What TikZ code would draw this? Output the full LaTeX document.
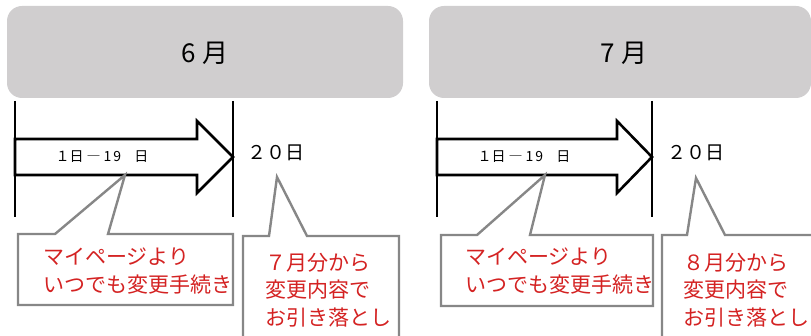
\documentclass[tikz,border=0pt]{standalone}
\usepackage{fontspec}
\setmainfont{Noto Sans CJK JP}
\definecolor{monthgray}{HTML}{D0CECF}
\definecolor{calloutgray}{HTML}{878787}
\definecolor{notered}{HTML}{D42222}
\newcommand{\rangetext}{１日\hspace{3pt}―\hspace{3pt}1\hspace{2pt}9\hspace{13pt}日}
\begin{document}
\begin{tikzpicture}[x=1pt,y=-1pt,
  monthbox/.style={fill=monthgray, rounded corners=15pt},
  monthlabel/.style={font=\fontsize{26}{28}\selectfont, inner sep=0},
  tickline/.style={line width=1.2pt},
  bigarrow/.style={draw=black, fill=white, line width=2.6pt, line join=miter},
  rangelabel/.style={font=\fontsize{14}{16}\selectfont, inner sep=0},
  daylabel/.style={font=\fontsize{19}{22}\selectfont, inner sep=0},
  callout/.style={draw=calloutgray, fill=white, line width=2.4pt, line join=miter},
  redtext/.style={text=notered, font=\fontsize{21}{27.5}\selectfont, align=left, anchor=west, inner sep=0}]
\useasboundingbox (0,0) rectangle (811,336);
\clip (0,0) rectangle (811,336);

% ---------- June panel ----------
\fill[monthbox] (7,6) rectangle (403,98);
\node[monthlabel] (m6) at (205,53) {6\hspace{7pt}月};
\draw[tickline] (15,101) -- (15,217);
\draw[tickline] (233,101) -- (233,217);
\draw[bigarrow] (15,139) -- (197,139) -- (197,121) -- (233,157) -- (197,193) -- (197,175) -- (15,175) -- cycle;
\node[rangelabel] (r6) at (102,157) {\rangetext};
\node[daylabel] (d6) at (276,153) {２０日};
\draw[callout] (18,234) -- (55,234) -- (125,175) -- (108,234) -- (233,234) -- (233,305) -- (18,305) -- cycle;
\node[redtext] (c6a) at (43,271) {マイページより\\いつでも変更手続き};
\draw[callout] (243,236) -- (269,236) -- (277,177) -- (307,236) -- (399,236) -- (399,345) -- (243,345) -- cycle;
\node[redtext] (c6b) at (265,290) {７月分から\\変更内容で\\お引き落とし};

% ---------- July panel ----------
\fill[monthbox] (429,6) rectangle (811,98);
\node[monthlabel] (m7) at (624,53) {7\hspace{7pt}月};
\draw[tickline] (437,101) -- (437,217);
\draw[tickline] (652,101) -- (652,217);
\draw[bigarrow] (437,139) -- (617,139) -- (617,121) -- (652,157) -- (617,193) -- (617,175) -- (437,175) -- cycle;
\node[rangelabel] (r7) at (524,157) {\rangetext};
\node[daylabel] (d7) at (696,153) {２０日};
\draw[callout] (441,235) -- (477,235) -- (545,175) -- (530,235) -- (653,235) -- (653,306) -- (441,306) -- cycle;
\node[redtext] (c7a) at (465,271) {マイページより\\いつでも変更手続き};
\draw[callout] (662,235) -- (687,235) -- (696,178) -- (725,235) -- (830,235) -- (830,345) -- (662,345) -- cycle;
\node[redtext] (c7b) at (683,290) {８月分から\\変更内容で\\お引き落とし};
\end{tikzpicture}
\end{document}
